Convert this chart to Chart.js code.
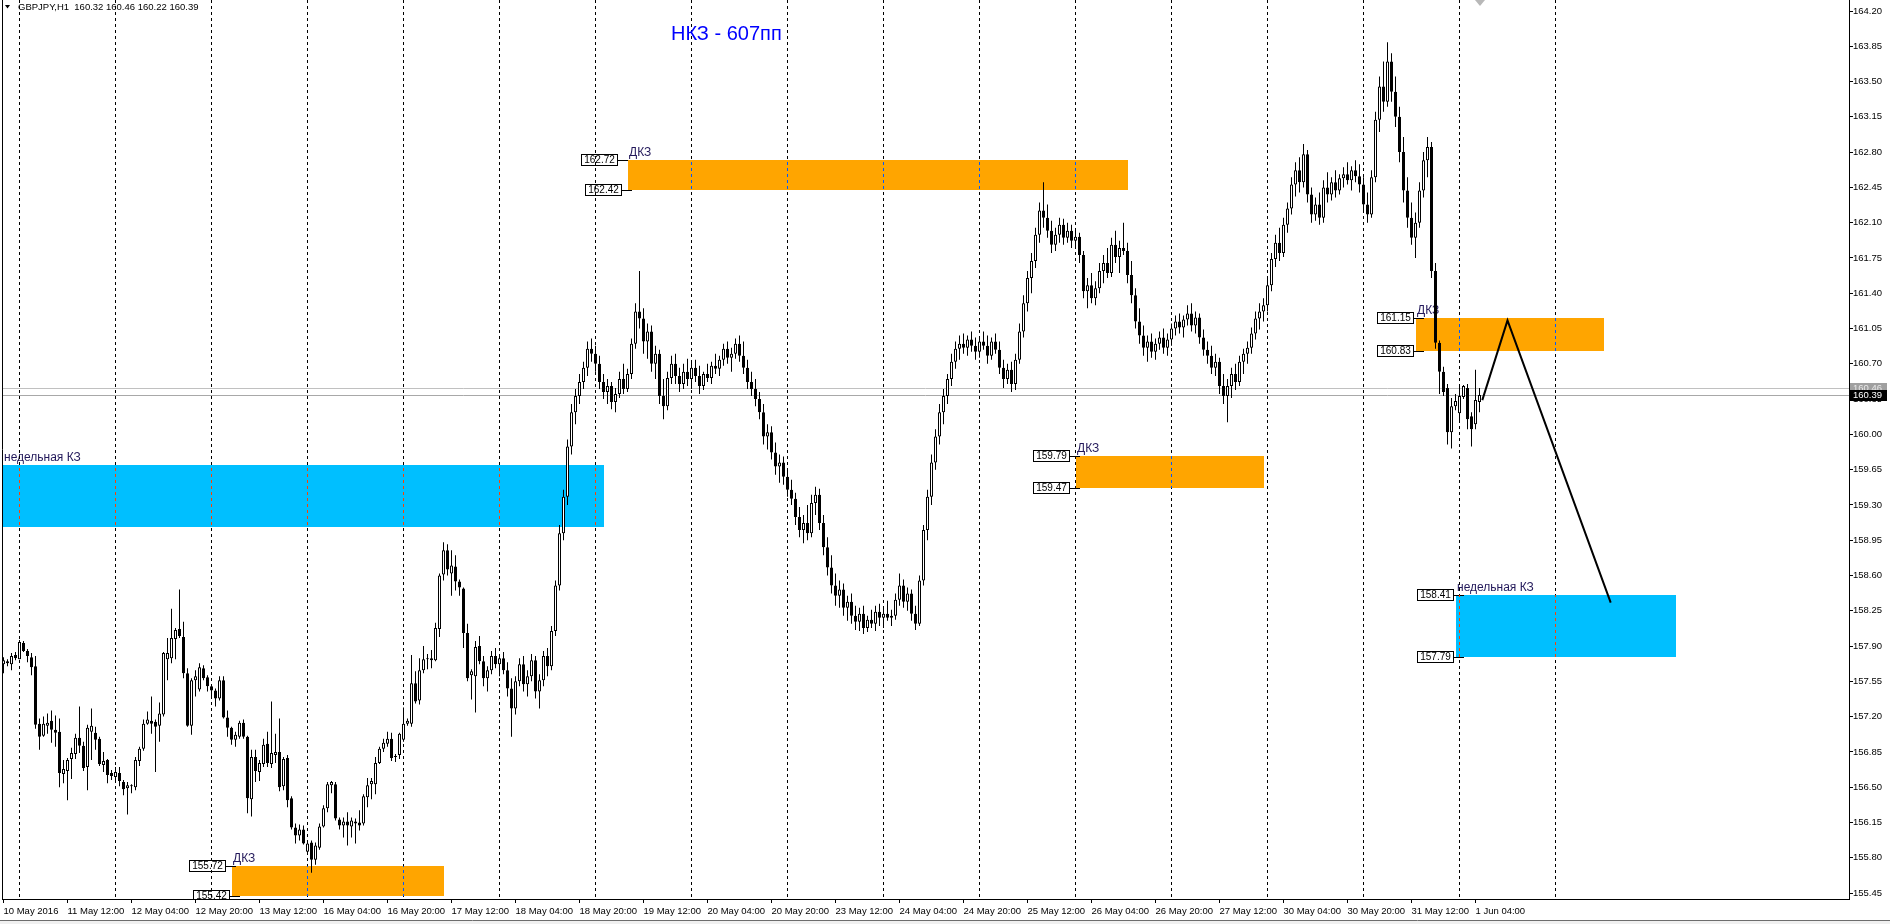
<!DOCTYPE html>
<html><head><meta charset="utf-8">
<script src="https://cdn.jsdelivr.net/npm/chart.js@4.4.1/dist/chart.umd.min.js"></script>
<style>html,body{margin:0;padding:0;background:#fff;overflow:hidden}canvas{display:block}</style>
</head><body>
<canvas id="c" width="1890" height="924"></canvas>
<script>
// ---------------- DATA ----------------
const symbolTitle = 'GBPJPY,H1';
const chartTitle = 'НКЗ - 607пп';

const open = [
157.72,157.75,157.72,157.81,157.77,157.93,157.85,157.79,157.70,157.13,
157.01,157.11,157.16,157.07,157.05,156.63,156.66,156.78,156.83,156.99,
156.91,156.70,157.05,157.04,156.98,156.72,156.77,156.64,156.60,156.64,
156.55,156.49,156.52,156.50,156.76,156.88,157.13,157.16,157.15,157.11,
157.22,157.77,157.78,157.97,158.07,157.99,157.63,157.11,157.56,157.47,
157.68,157.59,157.50,157.46,157.38,157.56,157.19,157.09,156.97,157.00,
157.14,157.00,156.38,156.80,156.65,156.73,156.93,156.73,156.82,156.85,
156.51,156.79,156.39,156.10,156.02,156.08,155.86,155.95,155.78,155.90,
156.11,156.29,156.52,156.53,156.18,156.12,156.16,156.11,156.16,156.15,
156.14,156.40,156.53,156.53,156.74,156.88,156.93,156.98,156.81,156.82,
156.97,157.13,157.13,157.53,157.36,157.66,157.77,157.76,157.76,158.07,
158.61,158.85,158.62,158.69,158.54,158.47,158.03,157.61,157.60,157.90,
157.75,157.58,157.66,157.80,157.72,157.78,157.66,157.48,157.28,157.55,
157.72,157.52,157.60,157.76,157.45,157.56,157.80,157.70,158.05,158.50,
159.02,159.38,159.88,160.22,160.38,160.52,160.66,160.85,160.80,160.70,
160.52,160.42,160.48,160.32,160.40,160.55,160.45,160.60,160.90,161.22,
161.15,160.92,161.02,160.70,160.80,160.38,160.28,160.56,160.70,160.58,
160.50,160.62,160.55,160.66,160.58,160.48,160.60,160.56,160.68,160.65,
160.74,160.85,160.76,160.80,160.90,160.78,160.66,160.52,160.45,160.35,
160.22,159.98,160.02,159.82,159.68,159.72,159.58,159.45,159.36,159.18,
159.05,159.12,159.02,159.32,159.40,159.12,158.88,158.68,158.50,158.40,
158.46,158.28,158.34,158.20,158.14,158.22,158.08,158.16,158.12,158.24,
158.18,158.22,158.18,158.20,158.36,158.50,158.34,158.42,158.22,158.12,
158.55,159.05,159.38,159.72,159.98,160.22,160.38,160.55,160.72,160.85,
160.90,160.86,160.94,160.88,160.82,160.92,160.88,160.78,160.92,160.84,
160.66,160.55,160.64,160.50,160.74,161.02,161.30,161.55,161.72,161.98,
162.22,162.15,162.02,161.88,161.98,162.08,161.95,162.02,161.92,161.96,
161.78,161.42,161.48,161.35,161.45,161.62,161.70,161.60,161.88,161.76,
161.85,161.82,161.58,161.38,161.12,160.98,160.86,160.92,160.82,160.90,
160.96,160.86,160.94,161.05,161.12,161.06,161.14,161.20,161.08,161.16,
160.96,160.84,160.78,160.66,160.72,160.48,160.38,160.48,160.60,160.52,
160.72,160.80,160.86,161.00,161.15,161.22,161.28,161.48,161.74,161.90,
161.80,162.08,162.24,162.48,162.62,162.50,162.78,162.38,162.18,162.28,
162.15,162.45,162.38,162.50,162.42,162.54,162.58,162.52,162.62,162.56,
162.48,162.28,162.18,162.55,163.12,163.45,163.30,163.70,163.40,163.15,
162.80,162.42,162.15,161.95,162.10,162.42,162.72,162.85,161.62,160.91,
160.62,160.46,160.02,160.28,160.21,160.37,160.46,160.18,160.10,160.32
];
const high = [
157.79,157.77,157.83,157.84,157.96,157.95,157.87,157.83,157.80,157.18,
157.20,157.23,157.26,157.21,157.18,156.77,156.79,156.89,157.03,157.30,
156.95,157.12,157.28,157.10,157.00,156.85,156.78,156.67,156.70,156.70,
156.57,156.55,156.53,156.80,156.90,157.17,157.25,157.40,157.17,157.34,
157.84,157.98,158.27,158.08,158.46,158.14,157.68,157.58,157.66,157.73,
157.71,157.61,157.52,157.48,157.60,157.60,157.26,157.10,157.05,157.16,
157.17,157.01,156.87,156.87,156.77,156.98,157.05,157.35,157.03,157.18,
156.80,156.82,156.41,156.14,156.13,156.12,155.96,155.97,155.95,156.14,
156.32,156.55,156.56,156.55,156.20,156.20,156.25,156.20,156.19,156.27,
156.43,156.59,156.59,156.80,156.90,156.98,157.05,157.04,156.83,157.04,
157.29,157.18,157.81,157.65,157.78,157.90,157.82,157.86,158.13,158.62,
158.93,158.91,158.85,158.80,158.56,158.48,158.12,157.67,157.95,158.00,
157.80,157.70,157.85,157.88,157.82,157.84,157.74,157.58,157.60,157.78,
157.80,157.66,157.82,157.80,157.62,157.85,157.88,158.10,158.55,159.10,
159.45,159.95,160.30,160.45,160.60,160.72,160.92,160.95,160.88,160.78,
160.60,160.55,160.52,160.46,160.62,160.70,160.65,160.95,161.30,161.62,
161.25,161.10,161.08,160.88,160.84,160.55,160.62,160.78,160.80,160.66,
160.70,160.75,160.72,160.74,160.68,160.62,160.70,160.72,160.80,160.78,
160.90,160.92,160.86,160.95,160.98,160.92,160.74,160.62,160.55,160.42,
160.30,160.10,160.08,159.92,159.80,159.78,159.66,159.55,159.42,159.28,
159.20,159.30,159.40,159.48,159.46,159.20,158.98,158.80,158.62,158.55,
158.52,158.40,158.42,158.30,158.28,158.30,158.20,158.26,158.30,158.32,
158.28,158.35,158.26,158.42,158.62,158.56,158.48,158.46,158.30,158.60,
159.10,159.45,159.80,160.05,160.30,160.45,160.60,160.80,160.92,160.98,
161.00,160.98,161.02,160.96,160.95,161.02,160.98,160.96,161.00,160.92,
160.74,160.70,160.72,160.80,161.10,161.38,161.62,161.80,162.05,162.30,
162.50,162.28,162.12,162.05,162.15,162.14,162.10,162.08,162.02,162.00,
161.82,161.55,161.60,161.52,161.70,161.78,161.85,161.95,162.02,161.92,
162.10,161.90,161.72,161.45,161.25,161.08,160.98,161.00,160.95,161.02,
161.05,161.00,161.10,161.18,161.20,161.18,161.28,161.30,161.22,161.20,
161.04,160.92,160.88,160.80,160.76,160.60,160.55,160.66,160.70,160.78,
160.85,160.92,161.06,161.22,161.30,161.35,161.55,161.80,161.98,162.05,
162.15,162.30,162.55,162.70,162.75,162.88,162.82,162.45,162.35,162.40,
162.52,162.60,162.55,162.62,162.58,162.65,162.70,162.66,162.72,162.68,
162.55,162.40,162.62,163.20,163.55,163.70,163.89,163.78,163.55,163.25,
162.95,162.55,162.30,162.20,162.50,162.80,162.95,162.90,161.70,160.93,
160.67,160.50,160.36,160.40,160.50,160.49,160.50,160.22,160.64,160.46
];
const low = [
157.63,157.70,157.66,157.76,157.77,157.84,157.74,157.61,157.08,156.87,
157.00,157.03,156.94,156.90,156.50,156.54,156.37,156.58,156.78,156.84,
156.66,156.47,156.77,156.87,156.71,156.65,156.54,156.57,156.56,156.51,
156.42,156.23,156.44,156.47,156.71,156.86,157.12,157.03,156.65,156.95,
157.20,157.56,157.73,157.77,157.98,157.58,157.10,157.02,157.40,157.45,
157.56,157.45,157.40,157.30,157.36,157.18,157.00,156.92,156.90,156.98,
156.98,156.24,156.21,156.55,156.56,156.70,156.70,156.69,156.74,156.46,
156.47,156.30,156.08,155.94,155.97,155.93,155.85,155.65,155.73,155.88,
156.10,156.25,156.44,156.17,156.08,156.00,155.92,156.00,155.94,156.07,
156.12,156.30,156.38,156.43,156.73,156.85,156.90,156.76,156.75,156.78,
156.95,157.11,157.10,157.33,157.32,157.63,157.67,157.68,157.75,157.99,
158.55,158.60,158.40,158.45,158.40,157.88,157.55,157.37,157.24,157.72,
157.50,157.45,157.62,157.68,157.60,157.62,157.40,157.00,157.22,157.50,
157.45,157.40,157.55,157.38,157.28,157.50,157.60,157.66,158.00,158.45,
158.95,159.30,159.80,160.10,160.30,160.45,160.58,160.72,160.62,160.45,
160.35,160.30,160.25,160.22,160.36,160.40,160.42,160.55,160.85,161.05,
160.80,160.75,160.62,160.55,160.30,160.15,160.24,160.50,160.50,160.42,
160.45,160.48,160.45,160.52,160.40,160.44,160.52,160.50,160.60,160.58,
160.68,160.70,160.62,160.75,160.72,160.60,160.45,160.38,160.28,160.15,
159.90,159.85,159.75,159.60,159.52,159.50,159.38,159.30,159.10,158.98,
158.92,158.95,158.98,159.20,159.05,158.80,158.60,158.42,158.30,158.28,
158.20,158.15,158.12,158.06,158.05,158.02,158.04,158.08,158.05,158.10,
158.08,158.15,158.10,158.16,158.30,158.28,158.25,158.15,158.06,158.10,
158.50,158.95,159.30,159.65,159.90,160.10,160.30,160.48,160.65,160.74,
160.80,160.78,160.82,160.74,160.76,160.84,160.70,160.74,160.80,160.60,
160.46,160.50,160.42,160.44,160.70,160.96,161.22,161.40,161.65,161.90,
162.05,161.95,161.80,161.82,161.90,161.88,161.90,161.85,161.85,161.70,
161.35,161.25,161.30,161.28,161.40,161.50,161.55,161.56,161.70,161.60,
161.78,161.50,161.30,161.05,160.90,160.78,160.72,160.76,160.74,160.84,
160.80,160.78,160.88,160.98,161.00,160.96,161.08,161.02,161.00,160.90,
160.78,160.70,160.60,160.58,160.40,160.30,160.12,160.36,160.44,160.48,
160.60,160.70,160.80,160.94,161.04,161.12,161.22,161.42,161.66,161.72,
161.76,162.00,162.18,162.36,162.40,162.45,162.30,162.10,162.12,162.08,
162.10,162.30,162.32,162.35,162.38,162.45,162.48,162.42,162.50,162.40,
162.20,162.10,162.15,162.50,163.00,163.20,163.25,163.30,163.05,162.70,
162.30,162.05,161.88,161.75,162.05,162.35,162.55,161.55,160.85,160.40,
160.38,159.90,159.86,160.24,160.14,160.35,160.05,159.88,160.05,160.22
];
const close = [
157.76,157.73,157.80,157.78,157.94,157.85,157.80,157.69,157.12,157.00,
157.13,157.14,157.07,157.04,156.64,156.68,156.77,156.84,156.99,156.91,
156.69,157.09,157.11,156.97,156.73,156.76,156.62,156.61,156.65,156.56,
156.48,156.52,156.51,156.77,156.88,157.13,157.17,157.13,157.10,157.23,
157.83,157.83,157.98,158.06,158.00,157.63,157.11,157.56,157.60,157.69,
157.58,157.50,157.46,157.38,157.56,157.19,157.09,156.97,157.02,157.14,
157.00,156.39,156.80,156.66,156.74,156.92,156.74,156.84,156.85,156.50,
156.78,156.37,156.10,156.02,156.08,155.94,155.94,155.78,155.92,156.11,
156.29,156.53,156.55,156.19,156.12,156.16,156.12,156.17,156.14,156.12,
156.41,156.52,156.56,156.74,156.88,156.94,156.98,156.79,156.80,157.03,
157.13,157.16,157.53,157.35,157.66,157.77,157.78,157.78,158.08,158.60,
158.85,158.66,158.70,158.54,158.48,158.03,157.58,157.65,157.89,157.75,
157.58,157.66,157.80,157.72,157.78,157.66,157.48,157.28,157.55,157.72,
157.52,157.60,157.76,157.45,157.56,157.80,157.70,158.05,158.50,159.02,
159.38,159.88,160.22,160.38,160.52,160.66,160.85,160.80,160.70,160.52,
160.42,160.48,160.32,160.40,160.55,160.45,160.60,160.90,161.22,161.15,
160.92,161.02,160.70,160.80,160.38,160.28,160.56,160.70,160.58,160.50,
160.62,160.55,160.66,160.58,160.48,160.60,160.56,160.68,160.65,160.74,
160.85,160.76,160.80,160.90,160.78,160.66,160.52,160.45,160.35,160.22,
159.98,160.02,159.82,159.68,159.72,159.58,159.45,159.36,159.18,159.05,
159.12,159.02,159.32,159.40,159.12,158.88,158.68,158.50,158.40,158.46,
158.28,158.34,158.20,158.14,158.22,158.08,158.16,158.12,158.24,158.18,
158.22,158.18,158.20,158.36,158.50,158.34,158.42,158.22,158.12,158.55,
159.05,159.38,159.72,159.98,160.22,160.38,160.55,160.72,160.85,160.90,
160.86,160.94,160.88,160.82,160.92,160.88,160.78,160.92,160.84,160.66,
160.55,160.64,160.50,160.74,161.02,161.30,161.55,161.72,161.98,162.22,
162.15,162.02,161.88,161.98,162.08,161.95,162.02,161.92,161.96,161.78,
161.42,161.48,161.35,161.45,161.62,161.70,161.60,161.88,161.76,161.85,
161.82,161.58,161.38,161.12,160.98,160.86,160.92,160.82,160.90,160.96,
160.86,160.94,161.05,161.12,161.06,161.14,161.20,161.08,161.16,160.96,
160.84,160.78,160.66,160.72,160.48,160.38,160.48,160.60,160.52,160.72,
160.80,160.86,161.00,161.15,161.22,161.28,161.48,161.74,161.90,161.80,
162.08,162.24,162.48,162.62,162.50,162.78,162.38,162.18,162.28,162.15,
162.45,162.38,162.50,162.42,162.54,162.58,162.52,162.62,162.56,162.48,
162.28,162.18,162.55,163.12,163.45,163.30,163.70,163.40,163.15,162.80,
162.42,162.15,161.95,162.10,162.42,162.72,162.85,161.62,160.91,160.62,
160.42,160.02,160.28,160.33,160.38,160.48,160.15,160.05,160.34,160.39
];

const tickBars = [0,16,32,48,64,80,96,112,128,144,160,176,192,208,224,240,256,272,288,304,320,336,352,368];
const tickLabels = ['10 May 2016','11 May 12:00','12 May 04:00','12 May 20:00','13 May 12:00','16 May 04:00',
  '16 May 20:00','17 May 12:00','18 May 04:00','18 May 20:00','19 May 12:00','20 May 04:00','20 May 20:00',
  '23 May 12:00','24 May 04:00','24 May 20:00','25 May 12:00','26 May 04:00','26 May 20:00','27 May 12:00',
  '30 May 04:00','30 May 20:00','31 May 12:00','1 Jun 04:00'];
const yTicks = [164.20,163.85,163.50,163.15,162.80,162.45,162.10,161.75,161.40,161.05,160.70,160.35,160.00,
  159.65,159.30,158.95,158.60,158.25,157.90,157.55,157.20,156.85,156.50,156.15,155.80,155.45];
const daySeparators = [4,28,52,76,100,124,148,172,196,220,244,268,292,316,340,364,388];

// zones (rectangles): start bar, end bar, top price, bottom price, kind, caption
const zoneFrom   = [-3, 156, 268, 353, 363, 57];
const zoneTo     = [150, 281, 315, 400, 418, 110];
const zoneTop    = [159.70, 162.72, 159.79, 161.15, 158.41, 155.72];
const zoneBottom = [159.08, 162.42, 159.47, 160.83, 157.79, 155.42];
const zoneKind   = ['weekly','daily','daily','daily','weekly','daily'];
const zoneText   = ['недельная КЗ','ДКЗ','ДКЗ','ДКЗ','недельная КЗ','ДКЗ'];
// price label anchors (bar) for top / bottom price of each zone
const labelBarTop    = [null, 156, 269, 355, 365, 58];
const labelBarBottom = [null, 157, 269, 355, 365, 59];

// projected path
const projBars   = [369.7, 376, 401.8];
const projPrices = [160.34, 161.13, 158.33];

const askPrice = 160.46;
const bidPrice = 160.39;
const shiftMarkerBar = 369;

// ---------------- CHART ----------------
const FONT = '"Liberation Sans", Arial, sans-serif';
const X_MIN = -0.375, X_MAX = 461.375;
const Y_MAX = 164.20 + 11/100.8;
const Y_MIN = Y_MAX - 899/100.8;

const bodyData = open.map((o,i)=>({x:i, y:[Math.min(o,close[i]), Math.max(o,close[i])]}));
const bodyColors = open.map((o,i)=> close[i] >= o ? '#ffffff' : '#000000');
const wickData = low.map((l,i)=>({x:i, y:[l, high[i]]}));
const projData = projBars.map((b,i)=>({x:b, y:projPrices[i]}));

const kindColor = {weekly:'#00BFFF', daily:'#FFA500'};
const kindInverse = {weekly:'#FF4000', daily:'#005AFF'};

const overlay = {
  id:'overlay',
  beforeDatasetsDraw(chart){
    const {ctx, chartArea:ca, scales:{x,y}} = chart;
    ctx.save();
    ctx.beginPath(); ctx.rect(ca.left, ca.top, ca.right-ca.left, ca.bottom-ca.top); ctx.clip();
    const rects = [];
    for (let k=0;k<zoneFrom.length;k++){
      const x0 = Math.round(x.getPixelForValue(zoneFrom[k]));
      const x1 = Math.round(x.getPixelForValue(zoneTo[k]));
      const y0 = Math.round(y.getPixelForValue(zoneTop[k]));
      const y1 = Math.round(y.getPixelForValue(zoneBottom[k]));
      rects.push([x0,y0,x1,y1]);
      ctx.fillStyle = kindColor[zoneKind[k]];
      ctx.fillRect(x0, y0, x1-x0, y1-y0);
      ctx.font = '12px ' + FONT;
      ctx.fillStyle = '#22185a';
      ctx.textBaseline = 'alphabetic';
      ctx.textAlign = 'left';
      ctx.fillText(zoneText[k], Math.max(x0, ca.left+1)+1, y0-4);
    }
    // price labels
    ctx.font = '10px ' + FONT;
    for (let k=0;k<zoneFrom.length;k++){
      const pairs = [[labelBarTop[k], zoneTop[k]], [labelBarBottom[k], zoneBottom[k]]];
      for (const [b,p] of pairs){
        if (b === null) continue;
        const ax = Math.round(x.getPixelForValue(b));
        const py = Math.round(y.getPixelForValue(p));
        const txt = p.toFixed(2);
        const w = Math.round(ctx.measureText(txt).width) + 6;
        const h = 12;
        const rx = ax - 10 - w;
        ctx.fillStyle = '#fff';
        ctx.fillRect(rx, py-6, w, h);
        ctx.strokeStyle = '#000'; ctx.lineWidth = 1;
        ctx.strokeRect(rx+0.5, py-6+0.5, w-1, h-1);
        ctx.beginPath(); ctx.moveTo(rx+w, py+0.5); ctx.lineTo(ax, py+0.5); ctx.stroke();
        ctx.fillStyle = '#000'; ctx.textAlign='center'; ctx.textBaseline='middle';
        ctx.fillText(txt, rx + w/2, py+0.5);
      }
    }
    // day separators
    ctx.lineWidth = 1;
    ctx.setLineDash([3,3]);
    for (const b of daySeparators){
      const px = Math.floor(x.getPixelForValue(b)) + 0.5;
      if (px < ca.left || px > ca.right) continue;
      ctx.strokeStyle = '#000';
      ctx.beginPath(); ctx.moveTo(px, ca.top); ctx.lineTo(px, ca.bottom); ctx.stroke();
      rects.forEach((r,k)=>{
        if (px > r[0] && px < r[2]){
          ctx.save();
          ctx.beginPath(); ctx.rect(r[0], r[1], r[2]-r[0], r[3]-r[1]); ctx.clip();
          ctx.strokeStyle = kindInverse[zoneKind[k]];
          ctx.beginPath(); ctx.moveTo(px, ca.top); ctx.lineTo(px, ca.bottom); ctx.stroke();
          ctx.restore();
        }
      });
    }
    ctx.setLineDash([]);
    // ask / bid lines
    for (const [p,c] of [[askPrice,'#c0c0c0'],[bidPrice,'#a8a8a8']]){
      const py = Math.round(y.getPixelForValue(p)) + 0.5;
      ctx.strokeStyle = c;
      ctx.beginPath(); ctx.moveTo(ca.left, py); ctx.lineTo(ca.right, py); ctx.stroke();
    }
    ctx.restore();
  },
  afterDraw(chart){
    const {ctx, chartArea:ca, scales:{x,y}} = chart;
    ctx.save();
    // left border
    ctx.strokeStyle = '#000'; ctx.lineWidth = 1;
    ctx.beginPath(); ctx.moveTo(ca.left+0.5, ca.top); ctx.lineTo(ca.left+0.5, ca.bottom); ctx.stroke();
    // chart shift marker
    const sx = Math.round(x.getPixelForValue(shiftMarkerBar));
    ctx.fillStyle = '#b8b8b8';
    ctx.beginPath(); ctx.moveTo(sx-5, ca.top); ctx.lineTo(sx+5, ca.top); ctx.lineTo(sx, ca.top+6); ctx.closePath(); ctx.fill();
    // header
    ctx.fillStyle = '#000';
    ctx.beginPath(); ctx.moveTo(5,5); ctx.lineTo(10,5); ctx.lineTo(7.5,8.5); ctx.closePath(); ctx.fill();
    ctx.font = '9.5px ' + FONT; ctx.textAlign='left'; ctx.textBaseline='middle';
    const n = open.length-1;
    ctx.fillText(symbolTitle + '  ' + [open[n],high[n],low[n],close[n]].map(v=>v.toFixed(2)).join(' '), 18, 7);
    // title
    ctx.font = '20px ' + FONT; ctx.fillStyle = '#0000ff';
    ctx.fillText(chartTitle, 671, 34);
    // ask / bid tags
    ctx.font = '9.5px ' + FONT;
    for (const [p,bg,fg] of [[askPrice,'#a0a0a0','#e8e8e8'],[bidPrice,'#000','#fff']]){
      const py = Math.round(y.getPixelForValue(p));
      ctx.fillStyle = bg; ctx.fillRect(ca.right+1, py-5, 37, 11);
      ctx.fillStyle = fg; ctx.textAlign='left'; ctx.textBaseline='middle';
      ctx.fillText(p.toFixed(2), ca.right+4, py+0.5);
    }
    // bottom strip
    ctx.fillStyle = '#f0f0f0'; ctx.fillRect(0, 921, 1890, 3);
    ctx.strokeStyle = '#6d6d6d';
    ctx.beginPath(); ctx.moveTo(0, 920.5); ctx.lineTo(1890, 920.5); ctx.stroke();
    ctx.restore();
  }
};

new Chart(document.getElementById('c'), {
  type:'bar',
  data:{ datasets:[
    {type:'line', data:projData, borderColor:'#000', borderWidth:2, pointRadius:0, tension:0, order:0},
    {data:bodyData, backgroundColor:bodyColors, borderColor:'#000', borderWidth:1, borderSkipped:false,
     barThickness:3, grouped:false, minBarLength:1, inflateAmount:0, order:1},
    {data:wickData, backgroundColor:'#000', borderWidth:0, barThickness:1, grouped:false, inflateAmount:0, order:2}
  ]},
  options:{
    responsive:false, animation:false, events:[],
    layout:{padding:{left:2, right:0, top:0, bottom:0}},
    plugins:{legend:{display:false}, tooltip:{enabled:false}},
    scales:{
      x:{type:'linear', min:X_MIN, max:X_MAX, offset:false, position:'bottom',
        grid:{display:true, drawOnChartArea:false, drawTicks:true, tickLength:4, color:'#000', offset:false},
        border:{display:true, color:'#000'},
        ticks:{autoSkip:false, maxRotation:0, minRotation:0, align:'start', padding:3, color:'#000',
          font:{family:FONT, size:9.5}, callback:(v)=>tickLabels[tickBars.indexOf(v)]},
        afterBuildTicks:s=>{ s.ticks = tickBars.map(v=>({value:v})); },
        afterFit:s=>{ s.height = 25; s.paddingLeft = 0; s.paddingRight = 0; }
      },
      y:{type:'linear', position:'right', min:Y_MIN, max:Y_MAX,
        grid:{display:true, drawOnChartArea:false, drawTicks:true, tickLength:4, color:'#000'},
        border:{display:true, color:'#000'},
        ticks:{padding:0, color:'#000', font:{family:FONT, size:9.5}, callback:v=>v.toFixed(2)},
        afterBuildTicks:s=>{ s.ticks = yTicks.map(v=>({value:v})); },
        afterFit:s=>{ s.width = 41; s.paddingTop = 0; s.paddingBottom = 0; }
      }
    }
  },
  plugins:[overlay]
});
</script>
</body></html>
